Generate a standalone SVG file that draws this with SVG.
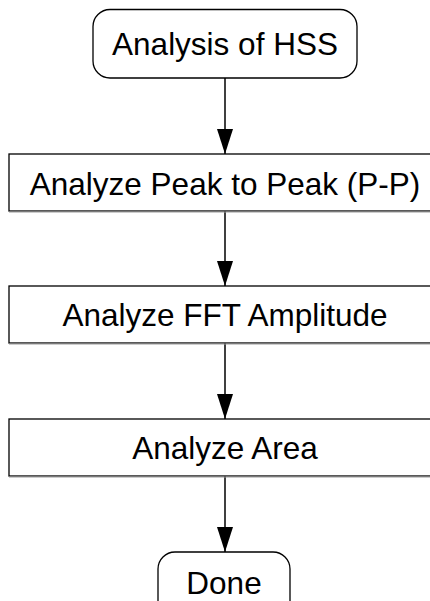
<svg xmlns="http://www.w3.org/2000/svg" width="430" height="601" viewBox="0 0 430 601">
  <style>
    .shape { fill: #ffffff; stroke: #000000; stroke-width: 1.3; }
    .shadow { fill: none; stroke: #999999; stroke-width: 1.2; }
    .label { font-family: "Liberation Sans", Arial, sans-serif; font-size: 31.5px; fill: #000000; text-anchor: middle; }
    .conn { stroke: #000000; stroke-width: 1.5; fill: none; marker-end: url(#arrow); }
  </style>
  <defs>
    <marker id="arrow" markerUnits="userSpaceOnUse" viewBox="0 0 25 16" refX="25" refY="8" markerWidth="25" markerHeight="16" orient="auto">
      <path d="M0,0 L25,8 L0,16 z" fill="#000000"/>
    </marker>
  </defs>
  <rect width="430" height="601" fill="#ffffff"/>

  <g id="connectors">
    <line class="conn" x1="225" y1="78" x2="225" y2="154"/>
    <line class="conn" x1="225" y1="211" x2="225" y2="286"/>
    <line class="conn" x1="225" y1="343" x2="225" y2="419"/>
    <line class="conn" x1="225" y1="476" x2="225" y2="552"/>
  </g>

  <g id="start">
    <rect class="shape" x="93" y="9.5" width="264" height="68.5" rx="17" ry="17"/>
    <text class="label" x="225" y="55">Analysis of HSS</text>
  </g>

  <g id="peak">
    <rect class="shape" x="9" y="154" width="432" height="57"/>
    <line class="shadow" x1="9" y1="212" x2="441" y2="212"/>
    <text class="label" x="225" y="195">Analyze Peak to Peak (P-P)</text>
  </g>

  <g id="fft">
    <rect class="shape" x="9" y="286" width="432" height="57"/>
    <line class="shadow" x1="9" y1="344" x2="441" y2="344"/>
    <text class="label" x="225" y="326">Analyze FFT Amplitude</text>
  </g>

  <g id="area">
    <rect class="shape" x="9" y="419" width="432" height="57"/>
    <line class="shadow" x1="9" y1="477" x2="441" y2="477"/>
    <text class="label" x="225" y="459">Analyze Area</text>
  </g>

  <g id="done">
    <rect class="shape" x="158" y="552" width="132" height="68.5" rx="17" ry="17"/>
    <text class="label" x="224" y="594">Done</text>
  </g>
</svg>
